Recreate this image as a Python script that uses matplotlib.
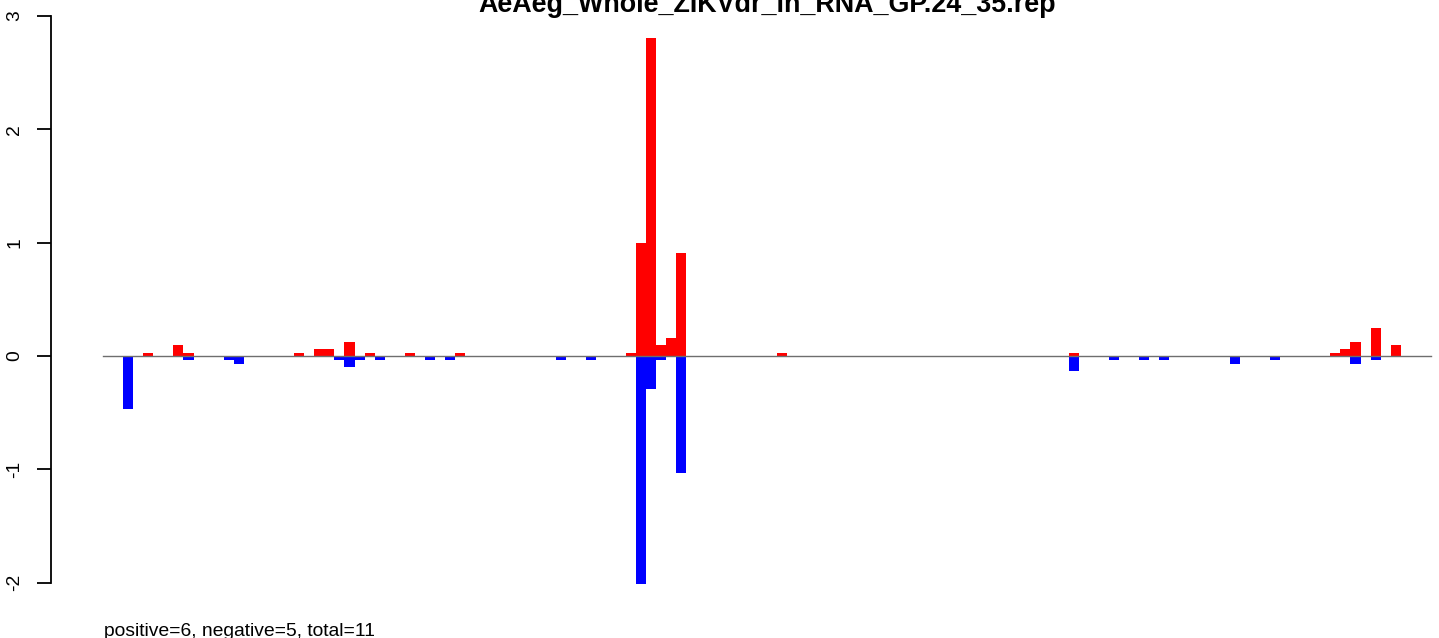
import numpy as np
import matplotlib
matplotlib.use("Agg")
import matplotlib.pyplot as plt

# positions along the read, one slot each
posPositive = [4, 7, 8, 19, 21, 22, 24, 26, 30, 35, 52, 53, 54, 55, 56, 57, 67, 96, 122, 123, 124, 126, 128]
valPositive = [0.026, 0.10, 0.026, 0.026, 0.062, 0.062, 0.123, 0.026, 0.026, 0.026, 0.026, 1.00, 2.80, 0.095, 0.16, 0.91,
               0.026, 0.026, 0.026, 0.062, 0.123, 0.247, 0.097]
posNegative = [2, 8, 12, 13, 23, 24, 25, 27, 32, 34, 45, 48, 53, 54, 55, 57, 96, 100, 103, 105, 112, 116, 124, 126]
valNegative = [-0.47, -0.033, -0.033, -0.068, -0.033, -0.095, -0.033, -0.033, -0.033, -0.033, -0.033, -0.033, -2.01, -0.29,
               -0.033, -1.03, -0.13, -0.033, -0.033, -0.033, -0.068, -0.033, -0.068, -0.033]
nPositions = 132
yTicks = [-2, -1, 0, 1, 2, 3]
strTitle = "AeAeg_Whole_ZIKVdr_in_RNA_GP.24_35.rep"
strFooter = "positive=6, negative=5, total=11"

plt.rcParams['font.family'] = ['Liberation Sans', 'DejaVu Sans']
plt.rcParams['axes.unicode_minus'] = False
fs = 13.9

fig = plt.figure(figsize=(14.39, 6.38), dpi=100)
W, H = 1439.0, 638.0
ax = fig.add_axes([51 / W, 0, 1 - 51 / W, 1])

ax.bar(posPositive, valPositive, width=1.0, color="#ff0000", linewidth=0, zorder=2)
ax.bar(posNegative, valNegative, width=1.0, color="#0000ff", linewidth=0, zorder=2)
ax.plot([-0.5, nPositions - 0.5], [0, 0], color="#6e6e6e", lw=1.0, zorder=3)

# pixel mapping: slot edge -0.5 at x=103, pitch 10.06 px; y=0 at 356 px, 113.4 px per unit
pitch = 10.06
ax.set_xlim(-0.5 + (51 - 103) / pitch, -0.5 + (W - 103) / pitch)
ax.set_ylim(-(H - 356) / 113.4, 356 / 113.4)

for s in ['top', 'right', 'bottom']:
  ax.spines[s].set_visible(False)
ax.spines['left'].set_bounds(-2, 3)
ax.spines['left'].set_linewidth(1.3)
ax.set_xticks([])
ax.set_yticks(yTicks)
ax.set_yticklabels([str(t) for t in yTicks], rotation=90, va='center', fontsize=fs)
ax.tick_params(axis='y', length=10, width=1.3, pad=10)

# title sits partly above the top edge, as in the original export
fig.text(767 / W, 1 - 12 / H, strTitle, ha='center', va='baseline', fontsize=19.4, fontweight='bold')
fig.text(104 / W, 2.5 / H, strFooter, ha='left', va='baseline', fontsize=fs)

fig.savefig("out.png", dpi=100)
